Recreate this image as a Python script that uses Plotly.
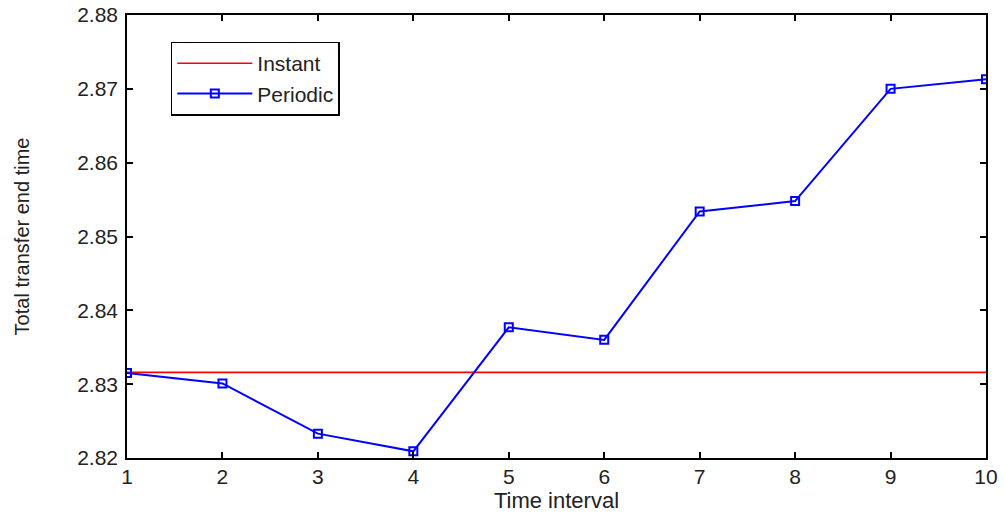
import plotly.graph_objects as go

time_interval = [1, 2, 3, 4, 5, 6, 7, 8, 9, 10]
instant = [2.8316] * 10
periodic = [2.8315, 2.8301, 2.8233, 2.8209, 2.8377, 2.8360, 2.8534, 2.8548, 2.8700, 2.8713]

x_ticks = [1, 2, 3, 4, 5, 6, 7, 8, 9, 10]
y_ticks = [2.82, 2.83, 2.84, 2.85, 2.86, 2.87, 2.88]
y_tick_labels = ["2.82", "2.83", "2.84", "2.85", "2.86", "2.87", "2.88"]

fig = go.Figure()
fig.add_trace(go.Scatter(
    x=time_interval, y=instant, mode="lines", name="Instant",
    line=dict(color="#ff0000", width=1.6),
))
fig.add_trace(go.Scatter(
    x=time_interval, y=periodic, mode="lines+markers", name="Periodic",
    line=dict(color="#0000ff", width=2),
    marker=dict(symbol="square-open", size=8, color="#0000ff", line=dict(width=2)),
))

axis_common = dict(
    showline=True, linecolor="black", linewidth=1.5, mirror="ticks",
    ticks="inside", ticklen=6, tickwidth=1.5, tickcolor="black",
    showgrid=False, zeroline=False, automargin=False,
    tickfont=dict(size=21, color="#222222", family="Liberation Sans"),
)

fig.update_layout(
    width=1005, height=516,
    margin=dict(l=127, r=19, t=15, b=58),
    paper_bgcolor="white", plot_bgcolor="white",
    font=dict(family="Liberation Sans", color="#222222"),
    xaxis=dict(
        range=[1, 10], tickvals=x_ticks,
        title=dict(text="Time interval", font=dict(size=22), standoff=4),
        ticklabelstandoff=-1,
        **axis_common,
    ),
    yaxis=dict(
        range=[2.82, 2.88], tickvals=y_ticks, ticktext=y_tick_labels,
        title=dict(text="Total transfer end time", font=dict(size=20), standoff=42),
        ticklabelstandoff=3,
        **axis_common,
    ),
    legend=dict(
        x=0.051, y=0.94, xanchor="left", yanchor="top",
        bordercolor="black", borderwidth=1.5, bgcolor="white",
        font=dict(size=21, color="#222222"),
        tracegroupgap=0, itemwidth=75,
    ),
    showlegend=True,
)

fig.write_html("out.html")
